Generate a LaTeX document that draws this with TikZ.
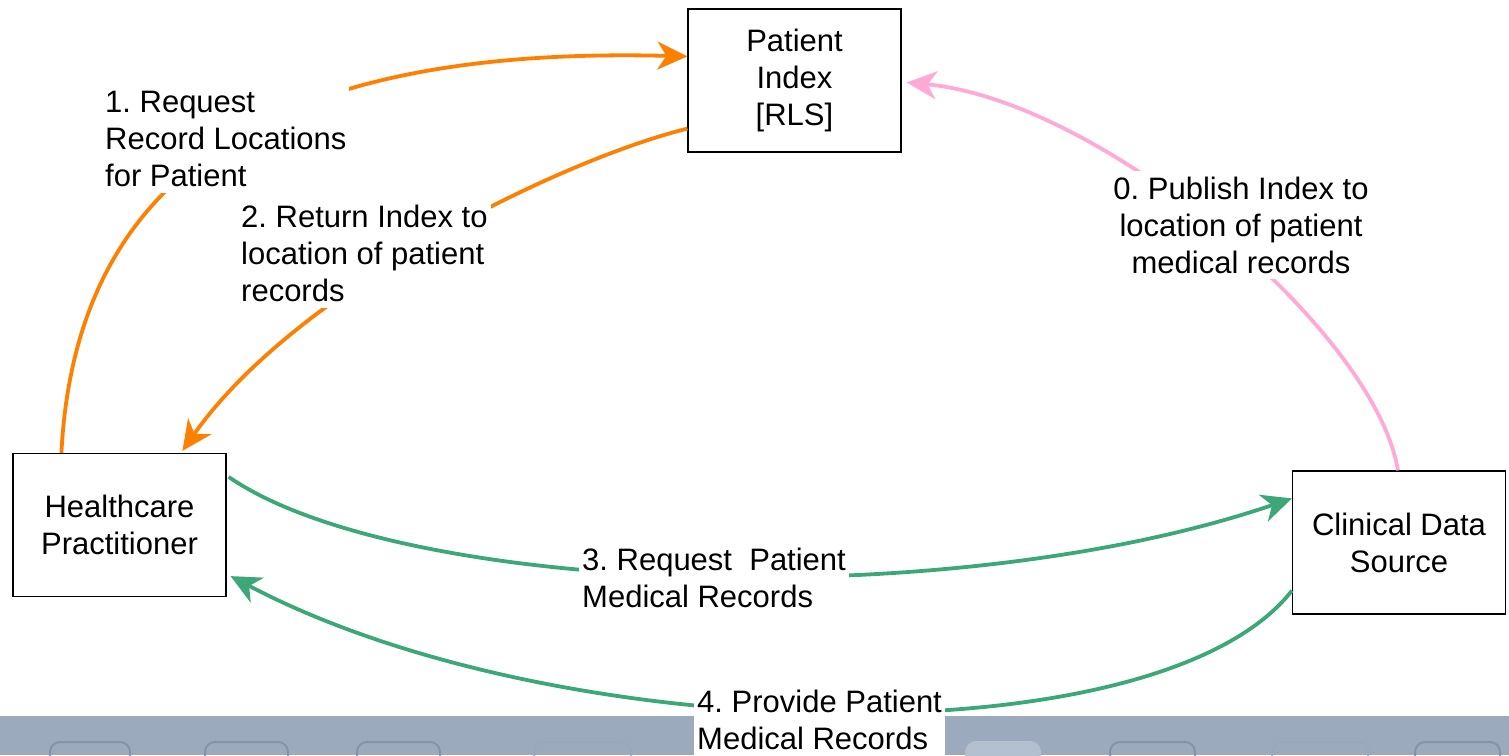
\documentclass[tikz,border=0pt]{standalone}
\usepackage{fontspec}
\setmainfont{Liberation Sans}
\usetikzlibrary{arrows.meta,calc}
\definecolor{orangeA}{RGB}{255,128,0}
\definecolor{pinkA}{RGB}{255,170,214}
\definecolor{greenA}{RGB}{60,168,120}
\definecolor{barA}{RGB}{155,171,189}
\definecolor{barB}{RGB}{132,147,166}
\definecolor{barC}{RGB}{178,192,208}
\frenchspacing
\begin{document}
\begin{tikzpicture}[x=1pt,y=-1pt,
  box/.style={draw=black,line width=1.2pt,fill=white,minimum width=213pt,minimum height=143pt,align=center,inner sep=0pt,font=\fontsize{31}{37}\selectfont},
  lbl/.style={fill=white,inner xsep=3pt,inner ysep=6pt,font=\fontsize{31}{37}\selectfont},
  flow/.style={line width=3.8pt},
  tip/.style={-{Stealth[length=30pt,width=28pt,inset=9pt]}},
  btn/.style={draw=barB,line width=2pt,rounded corners=10pt}
]
\useasboundingbox (0,0) rectangle (1509,755);
\fill[white] (0,0) rectangle (1509,755);
% bottom bar
\begin{scope}
\clip (0,716) rectangle (1509,755);
\fill[barA] (0,716) rectangle (1509,755);
\draw[btn] (50,742) rectangle (130,775);
\draw[btn] (205,742) rectangle (288,775);
\draw[btn] (357,742) rectangle (440,775);
\draw[btn,draw=barA!90!barB] (534,742) rectangle (631,775);
\draw[btn,draw=barB!60!white,fill=barC] (966,742) rectangle (1040,775);
\draw[btn] (1110,742) rectangle (1195,775);
\draw[btn,draw=barA!90!barB] (1272,742) rectangle (1368,775);
\draw[btn] (1415,742) rectangle (1500,775);
\end{scope}
% boxes
\node[box] (pi) at (794.5,80.5) {Patient\\Index\\{[RLS]}};
\node[box] (hp) at (119.5,525) {Healthcare\\Practitioner};
\node[box] (cds) at (1399,542.5) {Clinical Data\\Source};
% connectors
\draw[orangeA,flow,tip] ($(hp.north west)+(49,0)$) .. controls (75,190) and (250,45) .. ($(pi.north west)+(0,48)$);
\draw[orangeA,flow,tip] ($(pi.south west)+(0,-24)$) .. controls (560,160) and (295,290) .. ($(hp.north west)+(170,-2)$);
\draw[pinkA,flow,tip] ($(cds.north west)+(106,0)$) .. controls (1375,330) and (1100,100) .. ($(pi.east)+(5,2)$);
\draw[greenA,flow,tip] ($(hp.north east)+(2,24)$) .. controls (400,595) and (950,615) .. ($(cds.north west)+(0,28)$);
\draw[greenA,flow,tip] ($(cds.south west)+(0,-24)$) .. controls (1160,760) and (560,750) .. ($(hp.south east)+(4,-21)$);
% labels
\node[lbl,anchor=west,align=left] (l1) at (102,139) {1. Request\\Record Locations\\for Patient};
\node[lbl,anchor=west,align=left] (l2) at (238,253.5) {2. Return Index to\\location of patient\\records};
\node[lbl,align=center] (l0) at (1241,225) {0. Publish Index to\\location of patient\\medical records};
\node[lbl,anchor=west,align=left] (l3) at (579,577.5) {3. Request\ \ Patient\\Medical Records};
\node[lbl,anchor=west,align=left] (l4) at (694,719.5) {4. Provide Patient\\Medical Records};
\end{tikzpicture}
\end{document}
